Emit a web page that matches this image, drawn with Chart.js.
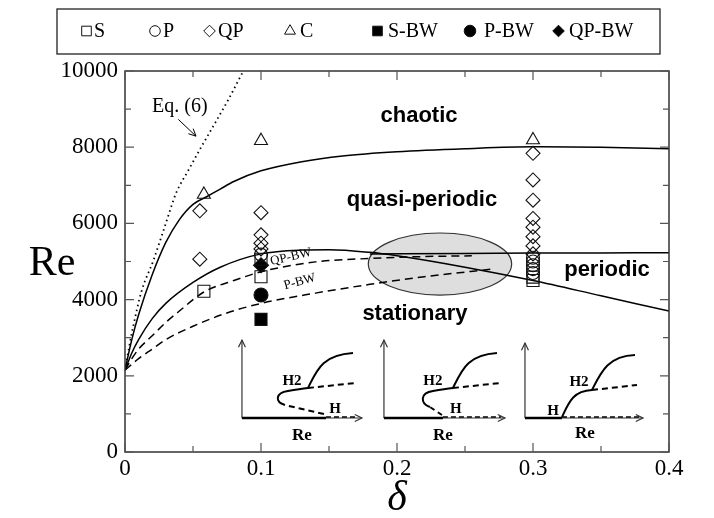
<!DOCTYPE html>
<html><head><meta charset="utf-8">
<script src="https://cdn.jsdelivr.net/npm/chart.js@4.4.1/dist/chart.umd.min.js"></script>
<style>html,body{margin:0;padding:0;background:#fff;}#wrap{width:714px;height:518px;}</style>
</head><body><div id="wrap"><canvas id="c" width="714" height="518"></canvas></div>
<script>
// ---------- data ----------
const xTicks = [0, 0.1, 0.2, 0.3, 0.4];
const xMinor = [0.05, 0.15, 0.25, 0.35];
const yTicks = [0, 2000, 4000, 6000, 8000, 10000];
const yMinor = [1000, 3000, 5000, 7000, 9000];

// simulation markers
const S_x = [0.058, 0.1, 0.1, 0.3, 0.3];
const S_y = [4220, 5060, 4600, 4590, 4500];
const P_x = [0.1, 0.3, 0.3, 0.3, 0.3, 0.3];
const P_y = [5180, 5100, 5000, 4900, 4800, 4700];
const QP_x = [0.055, 0.055, 0.1, 0.1, 0.1, 0.1, 0.3, 0.3, 0.3, 0.3, 0.3, 0.3, 0.3, 0.3];
const QP_y = [6330, 5060, 6280, 5700, 5480, 5330, 7840, 7140, 6610, 6130, 5900, 5650, 5410, 5200];
const C_x = [0.058, 0.1, 0.3];
const C_y = [6760, 8170, 8190];
const SBW_x = [0.1];
const SBW_y = [3480];
const PBW_x = [0.1];
const PBW_y = [4120];
const QPBW_x = [0.1];
const QPBW_y = [4900];

// boundary curves
const chaoticX = [0, 0.005, 0.01, 0.02, 0.03, 0.04, 0.05, 0.06, 0.07, 0.08, 0.1, 0.13, 0.16, 0.2, 0.25, 0.3, 0.35, 0.4];
const chaoticY = [2150, 2950, 3600, 4650, 5500, 6100, 6500, 6700, 6900, 7100, 7380, 7620, 7770, 7880, 7960, 8010, 8000, 7960];
const qpX = [0, 0.005, 0.01, 0.02, 0.03, 0.05, 0.07, 0.1, 0.13, 0.15, 0.18, 0.2, 0.25, 0.3, 0.35, 0.4];
const qpY = [2150, 2600, 2950, 3500, 3900, 4450, 4850, 5200, 5300, 5310, 5240, 5150, 4850, 4500, 4100, 3700];
const perX = [0.18, 0.25, 0.3, 0.35, 0.4];
const perY = [5200, 5210, 5220, 5225, 5230];
const qpbwX = [0, 0.005, 0.01, 0.02, 0.03, 0.04, 0.058, 0.08, 0.1, 0.14, 0.18, 0.22, 0.255];
const qpbwY = [2150, 2450, 2700, 3050, 3400, 3700, 4200, 4500, 4730, 4990, 5080, 5130, 5150];
const pbwX = [0, 0.01, 0.02, 0.03, 0.05, 0.075, 0.1, 0.14, 0.18, 0.22, 0.27];
const pbwY = [2150, 2450, 2700, 2950, 3300, 3650, 3900, 4170, 4400, 4600, 4800];
const eq6X = [0, 0.003, 0.006, 0.012, 0.021, 0.03, 0.0375, 0.047, 0.056, 0.066, 0.076, 0.087];
const eq6Y = [2150, 2750, 3290, 4200, 5040, 6000, 6790, 7420, 8000, 8620, 9250, 10000];

// legend entries
const legendLabels = ['S', 'P', 'QP', 'C', 'S-BW', 'P-BW', 'QP-BW'];

// ---------- helpers ----------
const pts = (xs, ys) => xs.map((x, i) => ({x: x, y: ys[i]}));
const SERIF = "'Liberation Serif', 'Times New Roman', serif";
const SANS = "'Liberation Sans', Arial, sans-serif";

function lineDS(label, xs, ys, dash, width) {
  return {type: 'line', label: label, data: pts(xs, ys), showLine: true, borderColor: '#000',
    borderWidth: width || 1.5, borderDash: dash || [], pointRadius: 0, fill: false,
    cubicInterpolationMode: 'monotone', order: 2};
}
function markDS(label, xs, ys, style, r, filled) {
  return {type: 'scatter', label: label, data: pts(xs, ys), pointStyle: style, pointRadius: r,
    pointHoverRadius: r, pointBorderColor: '#111', pointBorderWidth: 1.1,
    pointBackgroundColor: filled ? '#000' : 'rgba(0,0,0,0)', showLine: false, order: 1};
}

const markerSets = [
  markDS('S', S_x, S_y, 'rect', 8.5, false),
  markDS('P', P_x, P_y, 'circle', 6.5, false),
  markDS('QP', QP_x, QP_y, 'rectRot', 7, false),
  markDS('C', C_x, C_y, 'triangle', 7.5, false),
  markDS('S-BW', SBW_x, SBW_y, 'rect', 8.5, true),
  markDS('P-BW', PBW_x, PBW_y, 'circle', 7, true),
  markDS('QP-BW', QPBW_x, QPBW_y, 'rectRot', 7.5, true)
];

const lineSets = [
  lineDS('chaotic', chaoticX, chaoticY),
  lineDS('qp', qpX, qpY),
  lineDS('periodic', perX, perY),
  lineDS('QP-BW', qpbwX, qpbwY, [8, 5]),
  lineDS('P-BW', pbwX, pbwY, [8, 5]),
  lineDS('Eq6', eq6X, eq6Y, [1.5, 3.5], 1.8)
];

// ---------- decorations ----------
function arrowHead(ctx, x, y, ang, len) {
  ctx.beginPath();
  ctx.moveTo(x - len * Math.cos(ang - 0.45), y - len * Math.sin(ang - 0.45));
  ctx.lineTo(x, y);
  ctx.lineTo(x - len * Math.cos(ang + 0.45), y - len * Math.sin(ang + 0.45));
  ctx.stroke();
}

function insetAxes(ctx, ox, oy, w, h) {
  ctx.save();
  ctx.strokeStyle = '#333'; ctx.lineWidth = 1.2; ctx.setLineDash([]);
  ctx.beginPath(); ctx.moveTo(ox, oy); ctx.lineTo(ox, oy - h); ctx.stroke();
  arrowHead(ctx, ox, oy - h, -Math.PI / 2, 8);
  ctx.beginPath(); ctx.moveTo(ox, oy); ctx.lineTo(ox + w, oy); ctx.stroke();
  arrowHead(ctx, ox + w, oy, 0, 8);
  ctx.restore();
}
function txt(ctx, s, x, y, font, align) {
  ctx.font = font; ctx.textAlign = align || 'center'; ctx.textBaseline = 'middle';
  ctx.fillStyle = '#000'; ctx.fillText(s, x, y);
}

const insetAnchors = [[0.086, 892], [0.1904, 892], [0.2941, 892]];

function drawInsets(ctx, xs, ys) {
  const lblF = 'bold 15px ' + SERIF, reF = 'bold 17px ' + SERIF;
  insetAnchors.forEach((a, k) => {
    const ox = xs.getPixelForValue(a[0]), oy = ys.getPixelForValue(a[1]);
    ctx.save();
    ctx.translate(ox, oy);
    ctx.strokeStyle = '#000';
    if (k === 0) {
      insetAxes(ctx, 0, 0, 120, 78);
      ctx.lineWidth = 2.6; ctx.setLineDash([]);
      ctx.beginPath(); ctx.moveTo(0, 0); ctx.lineTo(84, 0); ctx.stroke();
      ctx.lineWidth = 1.6; ctx.setLineDash([5, 3]);
      ctx.beginPath(); ctx.moveTo(84, -1); ctx.lineTo(116, -1); ctx.stroke();
      ctx.lineWidth = 2; ctx.setLineDash([6, 4]);
      ctx.beginPath(); ctx.moveTo(82, -4); ctx.lineTo(43, -13); ctx.stroke();
      ctx.beginPath(); ctx.moveTo(66, -30); ctx.lineTo(113, -35); ctx.stroke();
      ctx.setLineDash([]);
      ctx.beginPath(); ctx.moveTo(43, -13); ctx.bezierCurveTo(33, -16, 33, -25, 46, -27);
      ctx.quadraticCurveTo(58, -29, 66, -30); ctx.stroke();
      ctx.beginPath(); ctx.moveTo(66, -30); ctx.bezierCurveTo(75, -48, 80, -63, 111, -65); ctx.stroke();
      txt(ctx, 'H2', 50, -37, lblF); txt(ctx, 'H', 93, -9, lblF); txt(ctx, 'Re', 60, 18, reF);
    } else if (k === 1) {
      insetAxes(ctx, 0, 0, 121, 78);
      ctx.lineWidth = 2.6; ctx.setLineDash([]);
      ctx.beginPath(); ctx.moveTo(0, 0); ctx.lineTo(59, 0); ctx.stroke();
      ctx.lineWidth = 1.6; ctx.setLineDash([5, 3]);
      ctx.beginPath(); ctx.moveTo(59, -1); ctx.lineTo(117, -1); ctx.stroke();
      ctx.lineWidth = 2; ctx.setLineDash([5, 4]);
      ctx.beginPath(); ctx.moveTo(58, -3); ctx.lineTo(46, -11); ctx.stroke();
      ctx.setLineDash([6, 4]);
      ctx.beginPath(); ctx.moveTo(69, -30); ctx.lineTo(116, -35); ctx.stroke();
      ctx.setLineDash([]);
      ctx.beginPath(); ctx.moveTo(46, -11); ctx.bezierCurveTo(36, -15, 36, -25, 49, -27);
      ctx.quadraticCurveTo(61, -29, 69, -30); ctx.stroke();
      ctx.beginPath(); ctx.moveTo(69, -30); ctx.bezierCurveTo(78, -48, 83, -63, 113, -65); ctx.stroke();
      txt(ctx, 'H2', 49, -37, lblF); txt(ctx, 'H', 72, -9, lblF); txt(ctx, 'Re', 59, 18, reF);
    } else {
      insetAxes(ctx, 0, 0, 118, 75);
      ctx.lineWidth = 2.6; ctx.setLineDash([]);
      ctx.beginPath(); ctx.moveTo(0, 0); ctx.lineTo(37, 0); ctx.stroke();
      ctx.lineWidth = 1.6; ctx.setLineDash([5, 3]);
      ctx.beginPath(); ctx.moveTo(37, -1); ctx.lineTo(114, -1); ctx.stroke();
      ctx.lineWidth = 2; ctx.setLineDash([6, 4]);
      ctx.beginPath(); ctx.moveTo(67, -28); ctx.lineTo(112, -33); ctx.stroke();
      ctx.setLineDash([]);
      ctx.beginPath(); ctx.moveTo(37, -1); ctx.bezierCurveTo(44, -16, 48, -27, 67, -28); ctx.stroke();
      ctx.beginPath(); ctx.moveTo(67, -28); ctx.bezierCurveTo(76, -46, 83, -62, 110, -63); ctx.stroke();
      txt(ctx, 'H', 28, -7, lblF); txt(ctx, 'H2', 54, -36, lblF); txt(ctx, 'Re', 60, 16, reF);
    }
    ctx.restore();
  });
}

const ellipseC = [0.2316, 4934], ellipseR = [0.0527, 814];
const regionLabels = [['chaotic', 0.2162, 8819], ['quasi-periodic', 0.2184, 6614], ['stationary', 0.2132, 3622], ['periodic', 0.3544, 4777]];

const decor = {
  id: 'decor',
  beforeDatasetsDraw(chart) {
    const ctx = chart.ctx, xs = chart.scales.x, ys = chart.scales.y;
    const cx = xs.getPixelForValue(ellipseC[0]), cy = ys.getPixelForValue(ellipseC[1]);
    const rx = xs.getPixelForValue(ellipseC[0] + ellipseR[0]) - cx;
    const ry = cy - ys.getPixelForValue(ellipseC[1] + ellipseR[1]);
    ctx.save();
    ctx.beginPath(); ctx.ellipse(cx, cy, rx, ry, 0, 0, Math.PI * 2);
    ctx.fillStyle = '#dedede'; ctx.fill();
    ctx.strokeStyle = '#333'; ctx.lineWidth = 1.2; ctx.stroke();
    ctx.restore();
  },
  afterDraw(chart) {
    const ctx = chart.ctx, xs = chart.scales.x, ys = chart.scales.y, a = chart.chartArea;
    ctx.save();
    // frame
    ctx.strokeStyle = '#333'; ctx.lineWidth = 1.5; ctx.setLineDash([]);
    ctx.strokeRect(a.left, a.top, a.right - a.left, a.bottom - a.top);
    // inward ticks
    ctx.lineWidth = 1.2; ctx.strokeStyle = '#555';
    const tk = (vals, len) => {
      vals.forEach(v => {
        const px = xs.getPixelForValue(v);
        ctx.beginPath(); ctx.moveTo(px, a.bottom); ctx.lineTo(px, a.bottom - len);
        ctx.moveTo(px, a.top); ctx.lineTo(px, a.top + len); ctx.stroke();
      });
    };
    const tky = (vals, len) => {
      vals.forEach(v => {
        const py = ys.getPixelForValue(v);
        ctx.beginPath(); ctx.moveTo(a.left, py); ctx.lineTo(a.left + len, py);
        ctx.moveTo(a.right, py); ctx.lineTo(a.right - len, py); ctx.stroke();
      });
    };
    tk(xTicks, 9); tk(xMinor, 6); tky(yTicks, 9); tky(yMinor, 6);

    // region labels
    regionLabels.forEach(r => txt(ctx, r[0], xs.getPixelForValue(r[1]), ys.getPixelForValue(r[2]), 'bold 22px ' + SANS));

    // Eq. (6) label with arrow
    txt(ctx, 'Eq. (6)', xs.getPixelForValue(0.0403), ys.getPixelForValue(9060), '20px ' + SERIF);
    const ax0 = xs.getPixelForValue(0.0392), ay0 = ys.getPixelForValue(8730);
    const ax1 = xs.getPixelForValue(0.0522), ay1 = ys.getPixelForValue(8290);
    ctx.strokeStyle = '#000'; ctx.lineWidth = 1;
    ctx.beginPath(); ctx.moveTo(ax0, ay0); ctx.lineTo(ax1, ay1); ctx.stroke();
    arrowHead(ctx, ax1, ay1, Math.atan2(ay1 - ay0, ax1 - ax0), 8);

    // branch labels
    ctx.save();
    ctx.translate(xs.getPixelForValue(0.122), ys.getPixelForValue(5120));
    ctx.rotate(-0.23);
    txt(ctx, 'QP-BW', 0, 0, '13px ' + SERIF);
    ctx.restore();
    ctx.save();
    ctx.translate(xs.getPixelForValue(0.1285), ys.getPixelForValue(4470));
    ctx.rotate(-0.27);
    txt(ctx, 'P-BW', 0, 0, '13px ' + SERIF);
    ctx.restore();

    drawInsets(ctx, xs, ys);

    // axis titles
    txt(ctx, 'Re', 52, (a.top + a.bottom) / 2 + 2, '42px ' + SERIF);
    txt(ctx, 'δ', (a.left + a.right) / 2, 499, 'italic 42px ' + SERIF);

    // legend box
    ctx.strokeStyle = '#222'; ctx.lineWidth = 1.3;
    ctx.strokeRect(57, 9, 603, 45);
    const lx = [86.5, 155, 209.5, 290, 377.5, 470, 558.5];
    const tx = [94, 163, 218, 300, 388, 484, 569];
    const lr = {rect: 6.8, circle: 5.3, rectRot: 5.8, triangle: 6.3};
    legendLabels.forEach((lab, i) => {
      const ds = chart.data.datasets.find(d => d.label === lab && d.type === 'scatter');
      let r = lr[ds.pointStyle];
      if (lab === 'P-BW') r = 5.8;
      ctx.save();
      ctx.strokeStyle = '#111'; ctx.fillStyle = ds.pointBackgroundColor; ctx.lineWidth = 1;
      Chart.helpers.drawPoint(ctx, {pointStyle: ds.pointStyle, radius: r, rotation: 0, borderWidth: 1}, lx[i], 31);
      ctx.restore();
      txt(ctx, lab, tx[i], 32, '20px ' + SERIF, 'left');
    });
    ctx.restore();
  }
};

new Chart(document.getElementById('c'), {
  type: 'scatter',
  data: {datasets: markerSets.concat(lineSets)},
  options: {
    responsive: false, animation: false, devicePixelRatio: 1,
    layout: {padding: {left: 0, right: 45, top: 71, bottom: 0}},
    plugins: {legend: {display: false}, tooltip: {enabled: false}},
    scales: {
      x: {
        type: 'linear', min: 0, max: 0.4,
        afterBuildTicks: s => { s.ticks = xTicks.map(v => ({value: v})); },
        afterFit: s => { s.height = 66; },
        grid: {display: false, drawTicks: false}, border: {display: false},
        ticks: {color: '#000', font: {family: SERIF, size: 23}, padding: 3, maxRotation: 0,
          callback: v => (v === 0 ? '0' : v.toFixed(1))}
      },
      y: {
        type: 'linear', min: 0, max: 10000,
        afterBuildTicks: s => { s.ticks = yTicks.map(v => ({value: v})); },
        afterFit: s => { s.width = 125; },
        grid: {display: false, drawTicks: false}, border: {display: false},
        ticks: {color: '#000', font: {family: SERIF, size: 23}, padding: 7, callback: v => String(v)}
      }
    }
  },
  plugins: [decor]
});
</script></body></html>
